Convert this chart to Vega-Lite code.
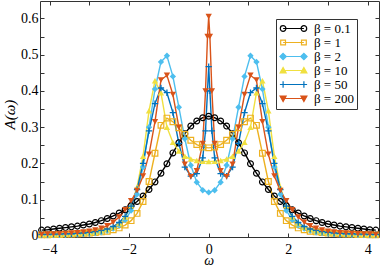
{
"$schema": "https://vega.github.io/schema/vega-lite/v6.json",
"width": 339, "height": 236,
"autosize": "none",
"padding": {"left": 40, "top": 1, "right": 3, "bottom": 31},
"background": "white",
"config": {
  "view": {"stroke": null},
  "font": "Liberation Serif",
  "axis": {"domainColor": "#333", "tickColor": "#333", "labelColor": "#000", "labelFont": "Liberation Serif", "labelFontSize": 14, "titleFont": "Liberation Serif", "titleFontSize": 15, "titleFontStyle": "italic", "titleFontWeight": "normal", "titleColor": "#000", "grid": false, "tickSize": -4, "domainWidth": 1, "tickWidth": 1, "labelFlush": false, "labelOverlap": false},
  "legend": {"labelFont": "Liberation Serif", "labelFontSize": 13, "labelColor": "#000", "orient": "none", "legendX": 236, "legendY": 18, "padding": 3, "rowPadding": -1.8, "strokeColor": "#333", "fillColor": "white", "symbolSize": 64, "symbolOffset": 8, "labelOffset": 14, "symbolStrokeWidth": 1.2}
},
"data": {"values": [
{"beta":0.1,"w":-4.2,"A":0.016},{"beta":0.1,"w":-4.05,"A":0.017},{"beta":0.1,"w":-3.9,"A":0.019},{"beta":0.1,"w":-3.75,"A":0.021},{"beta":0.1,"w":-3.6,"A":0.023},{"beta":0.1,"w":-3.45,"A":0.025},{"beta":0.1,"w":-3.3,"A":0.027},{"beta":0.1,"w":-3.15,"A":0.030},{"beta":0.1,"w":-3.0,"A":0.033},{"beta":0.1,"w":-2.85,"A":0.037},{"beta":0.1,"w":-2.7,"A":0.042},{"beta":0.1,"w":-2.55,"A":0.048},{"beta":0.1,"w":-2.4,"A":0.055},{"beta":0.1,"w":-2.25,"A":0.063},{"beta":0.1,"w":-2.1,"A":0.072},{"beta":0.1,"w":-1.95,"A":0.083},{"beta":0.1,"w":-1.8,"A":0.095},{"beta":0.1,"w":-1.65,"A":0.110},{"beta":0.1,"w":-1.5,"A":0.128},{"beta":0.1,"w":-1.35,"A":0.149},{"beta":0.1,"w":-1.2,"A":0.173},{"beta":0.1,"w":-1.05,"A":0.199},{"beta":0.1,"w":-0.9,"A":0.229},{"beta":0.1,"w":-0.75,"A":0.257},{"beta":0.1,"w":-0.6,"A":0.282},{"beta":0.1,"w":-0.45,"A":0.303},{"beta":0.1,"w":-0.3,"A":0.317},{"beta":0.1,"w":-0.15,"A":0.326},{"beta":0.1,"w":0,"A":0.330},{"beta":0.1,"w":0.15,"A":0.326},{"beta":0.1,"w":0.3,"A":0.317},{"beta":0.1,"w":0.45,"A":0.303},{"beta":0.1,"w":0.6,"A":0.282},{"beta":0.1,"w":0.75,"A":0.257},{"beta":0.1,"w":0.9,"A":0.229},{"beta":0.1,"w":1.05,"A":0.199},{"beta":0.1,"w":1.2,"A":0.173},{"beta":0.1,"w":1.35,"A":0.149},{"beta":0.1,"w":1.5,"A":0.128},{"beta":0.1,"w":1.65,"A":0.110},{"beta":0.1,"w":1.8,"A":0.095},{"beta":0.1,"w":1.95,"A":0.083},{"beta":0.1,"w":2.1,"A":0.072},{"beta":0.1,"w":2.25,"A":0.063},{"beta":0.1,"w":2.4,"A":0.055},{"beta":0.1,"w":2.55,"A":0.048},{"beta":0.1,"w":2.7,"A":0.042},{"beta":0.1,"w":2.85,"A":0.037},{"beta":0.1,"w":3.0,"A":0.033},{"beta":0.1,"w":3.15,"A":0.030},{"beta":0.1,"w":3.3,"A":0.027},{"beta":0.1,"w":3.45,"A":0.025},{"beta":0.1,"w":3.6,"A":0.023},{"beta":0.1,"w":3.75,"A":0.021},{"beta":0.1,"w":3.9,"A":0.019},{"beta":0.1,"w":4.05,"A":0.017},{"beta":0.1,"w":4.2,"A":0.016},
{"beta":1,"w":-4.2,"A":0.003},{"beta":1,"w":-4.05,"A":0.003},{"beta":1,"w":-3.9,"A":0.004},{"beta":1,"w":-3.75,"A":0.004},{"beta":1,"w":-3.6,"A":0.005},{"beta":1,"w":-3.45,"A":0.005},{"beta":1,"w":-3.3,"A":0.006},{"beta":1,"w":-3.15,"A":0.007},{"beta":1,"w":-3.0,"A":0.008},{"beta":1,"w":-2.85,"A":0.009},{"beta":1,"w":-2.7,"A":0.011},{"beta":1,"w":-2.55,"A":0.013},{"beta":1,"w":-2.4,"A":0.017},{"beta":1,"w":-2.25,"A":0.022},{"beta":1,"w":-2.1,"A":0.030},{"beta":1,"w":-1.95,"A":0.042},{"beta":1,"w":-1.8,"A":0.062},{"beta":1,"w":-1.65,"A":0.095},{"beta":1,"w":-1.5,"A":0.150},{"beta":1,"w":-1.35,"A":0.228},{"beta":1,"w":-1.2,"A":0.305},{"beta":1,"w":-1.05,"A":0.325},{"beta":1,"w":-0.9,"A":0.315},{"beta":1,"w":-0.75,"A":0.298},{"beta":1,"w":-0.6,"A":0.280},{"beta":1,"w":-0.45,"A":0.264},{"beta":1,"w":-0.3,"A":0.252},{"beta":1,"w":-0.15,"A":0.245},{"beta":1,"w":0,"A":0.243},{"beta":1,"w":0.15,"A":0.245},{"beta":1,"w":0.3,"A":0.252},{"beta":1,"w":0.45,"A":0.264},{"beta":1,"w":0.6,"A":0.280},{"beta":1,"w":0.75,"A":0.298},{"beta":1,"w":0.9,"A":0.315},{"beta":1,"w":1.05,"A":0.325},{"beta":1,"w":1.2,"A":0.305},{"beta":1,"w":1.35,"A":0.228},{"beta":1,"w":1.5,"A":0.150},{"beta":1,"w":1.65,"A":0.095},{"beta":1,"w":1.8,"A":0.062},{"beta":1,"w":1.95,"A":0.042},{"beta":1,"w":2.1,"A":0.030},{"beta":1,"w":2.25,"A":0.022},{"beta":1,"w":2.4,"A":0.017},{"beta":1,"w":2.55,"A":0.013},{"beta":1,"w":2.7,"A":0.011},{"beta":1,"w":2.85,"A":0.009},{"beta":1,"w":3.0,"A":0.008},{"beta":1,"w":3.15,"A":0.007},{"beta":1,"w":3.3,"A":0.006},{"beta":1,"w":3.45,"A":0.005},{"beta":1,"w":3.6,"A":0.005},{"beta":1,"w":3.75,"A":0.004},{"beta":1,"w":3.9,"A":0.004},{"beta":1,"w":4.05,"A":0.003},{"beta":1,"w":4.2,"A":0.003},
{"beta":2,"w":-4.2,"A":0.002},{"beta":2,"w":-4.05,"A":0.002},{"beta":2,"w":-3.9,"A":0.002},{"beta":2,"w":-3.75,"A":0.003},{"beta":2,"w":-3.6,"A":0.003},{"beta":2,"w":-3.45,"A":0.004},{"beta":2,"w":-3.3,"A":0.004},{"beta":2,"w":-3.15,"A":0.005},{"beta":2,"w":-3.0,"A":0.006},{"beta":2,"w":-2.85,"A":0.008},{"beta":2,"w":-2.7,"A":0.010},{"beta":2,"w":-2.55,"A":0.014},{"beta":2,"w":-2.4,"A":0.020},{"beta":2,"w":-2.25,"A":0.029},{"beta":2,"w":-2.1,"A":0.044},{"beta":2,"w":-1.95,"A":0.070},{"beta":2,"w":-1.8,"A":0.115},{"beta":2,"w":-1.65,"A":0.190},{"beta":2,"w":-1.5,"A":0.300},{"beta":2,"w":-1.35,"A":0.405},{"beta":2,"w":-1.2,"A":0.480},{"beta":2,"w":-1.05,"A":0.497},{"beta":2,"w":-0.9,"A":0.440},{"beta":2,"w":-0.75,"A":0.355},{"beta":2,"w":-0.6,"A":0.268},{"beta":2,"w":-0.45,"A":0.195},{"beta":2,"w":-0.3,"A":0.148},{"beta":2,"w":-0.15,"A":0.126},{"beta":2,"w":0,"A":0.120},{"beta":2,"w":0.15,"A":0.126},{"beta":2,"w":0.3,"A":0.148},{"beta":2,"w":0.45,"A":0.195},{"beta":2,"w":0.6,"A":0.268},{"beta":2,"w":0.75,"A":0.355},{"beta":2,"w":0.9,"A":0.440},{"beta":2,"w":1.05,"A":0.497},{"beta":2,"w":1.2,"A":0.480},{"beta":2,"w":1.35,"A":0.405},{"beta":2,"w":1.5,"A":0.300},{"beta":2,"w":1.65,"A":0.190},{"beta":2,"w":1.8,"A":0.115},{"beta":2,"w":1.95,"A":0.070},{"beta":2,"w":2.1,"A":0.044},{"beta":2,"w":2.25,"A":0.029},{"beta":2,"w":2.4,"A":0.020},{"beta":2,"w":2.55,"A":0.014},{"beta":2,"w":2.7,"A":0.010},{"beta":2,"w":2.85,"A":0.008},{"beta":2,"w":3.0,"A":0.006},{"beta":2,"w":3.15,"A":0.005},{"beta":2,"w":3.3,"A":0.004},{"beta":2,"w":3.45,"A":0.004},{"beta":2,"w":3.6,"A":0.003},{"beta":2,"w":3.75,"A":0.003},{"beta":2,"w":3.9,"A":0.002},{"beta":2,"w":4.05,"A":0.002},{"beta":2,"w":4.2,"A":0.002},
{"beta":10,"w":-4.2,"A":0.004},{"beta":10,"w":-4.05,"A":0.004},{"beta":10,"w":-3.9,"A":0.004},{"beta":10,"w":-3.75,"A":0.005},{"beta":10,"w":-3.6,"A":0.005},{"beta":10,"w":-3.45,"A":0.006},{"beta":10,"w":-3.3,"A":0.007},{"beta":10,"w":-3.15,"A":0.008},{"beta":10,"w":-3.0,"A":0.009},{"beta":10,"w":-2.85,"A":0.011},{"beta":10,"w":-2.7,"A":0.014},{"beta":10,"w":-2.55,"A":0.018},{"beta":10,"w":-2.4,"A":0.024},{"beta":10,"w":-2.25,"A":0.034},{"beta":10,"w":-2.1,"A":0.052},{"beta":10,"w":-1.95,"A":0.083},{"beta":10,"w":-1.8,"A":0.135},{"beta":10,"w":-1.65,"A":0.220},{"beta":10,"w":-1.5,"A":0.345},{"beta":10,"w":-1.35,"A":0.428},{"beta":10,"w":-1.2,"A":0.395},{"beta":10,"w":-1.05,"A":0.300},{"beta":10,"w":-0.9,"A":0.258},{"beta":10,"w":-0.75,"A":0.234},{"beta":10,"w":-0.6,"A":0.220},{"beta":10,"w":-0.45,"A":0.212},{"beta":10,"w":-0.3,"A":0.208},{"beta":10,"w":-0.15,"A":0.206},{"beta":10,"w":0,"A":0.205},{"beta":10,"w":0.15,"A":0.206},{"beta":10,"w":0.3,"A":0.208},{"beta":10,"w":0.45,"A":0.212},{"beta":10,"w":0.6,"A":0.220},{"beta":10,"w":0.75,"A":0.234},{"beta":10,"w":0.9,"A":0.258},{"beta":10,"w":1.05,"A":0.300},{"beta":10,"w":1.2,"A":0.395},{"beta":10,"w":1.35,"A":0.428},{"beta":10,"w":1.5,"A":0.345},{"beta":10,"w":1.65,"A":0.220},{"beta":10,"w":1.8,"A":0.135},{"beta":10,"w":1.95,"A":0.083},{"beta":10,"w":2.1,"A":0.052},{"beta":10,"w":2.25,"A":0.034},{"beta":10,"w":2.4,"A":0.024},{"beta":10,"w":2.55,"A":0.018},{"beta":10,"w":2.7,"A":0.014},{"beta":10,"w":2.85,"A":0.011},{"beta":10,"w":3.0,"A":0.009},{"beta":10,"w":3.15,"A":0.008},{"beta":10,"w":3.3,"A":0.007},{"beta":10,"w":3.45,"A":0.006},{"beta":10,"w":3.6,"A":0.005},{"beta":10,"w":3.75,"A":0.005},{"beta":10,"w":3.9,"A":0.004},{"beta":10,"w":4.05,"A":0.004},{"beta":10,"w":4.2,"A":0.004},
{"beta":50,"w":-4.2,"A":0.004},{"beta":50,"w":-4.05,"A":0.004},{"beta":50,"w":-3.9,"A":0.005},{"beta":50,"w":-3.75,"A":0.005},{"beta":50,"w":-3.6,"A":0.006},{"beta":50,"w":-3.45,"A":0.006},{"beta":50,"w":-3.3,"A":0.007},{"beta":50,"w":-3.15,"A":0.008},{"beta":50,"w":-3.0,"A":0.010},{"beta":50,"w":-2.85,"A":0.012},{"beta":50,"w":-2.7,"A":0.015},{"beta":50,"w":-2.55,"A":0.019},{"beta":50,"w":-2.4,"A":0.026},{"beta":50,"w":-2.25,"A":0.037},{"beta":50,"w":-2.1,"A":0.054},{"beta":50,"w":-1.95,"A":0.082},{"beta":50,"w":-1.8,"A":0.128},{"beta":50,"w":-1.65,"A":0.200},{"beta":50,"w":-1.5,"A":0.290},{"beta":50,"w":-1.35,"A":0.365},{"beta":50,"w":-1.2,"A":0.408},{"beta":50,"w":-1.05,"A":0.395},{"beta":50,"w":-0.9,"A":0.340},{"beta":50,"w":-0.75,"A":0.255},{"beta":50,"w":-0.6,"A":0.190},{"beta":50,"w":-0.45,"A":0.165},{"beta":50,"w":-0.3,"A":0.172},{"beta":50,"w":-0.15,"A":0.215},{"beta":50,"w":-0.08,"A":0.290},{"beta":50,"w":-0.03,"A":0.400},{"beta":50,"w":0,"A":0.467},{"beta":50,"w":0.03,"A":0.400},{"beta":50,"w":0.08,"A":0.290},{"beta":50,"w":0.15,"A":0.215},{"beta":50,"w":0.3,"A":0.172},{"beta":50,"w":0.45,"A":0.165},{"beta":50,"w":0.6,"A":0.190},{"beta":50,"w":0.75,"A":0.255},{"beta":50,"w":0.9,"A":0.340},{"beta":50,"w":1.05,"A":0.395},{"beta":50,"w":1.2,"A":0.408},{"beta":50,"w":1.35,"A":0.365},{"beta":50,"w":1.5,"A":0.290},{"beta":50,"w":1.65,"A":0.200},{"beta":50,"w":1.8,"A":0.128},{"beta":50,"w":1.95,"A":0.082},{"beta":50,"w":2.1,"A":0.054},{"beta":50,"w":2.25,"A":0.037},{"beta":50,"w":2.4,"A":0.026},{"beta":50,"w":2.55,"A":0.019},{"beta":50,"w":2.7,"A":0.015},{"beta":50,"w":2.85,"A":0.012},{"beta":50,"w":3.0,"A":0.010},{"beta":50,"w":3.15,"A":0.008},{"beta":50,"w":3.3,"A":0.007},{"beta":50,"w":3.45,"A":0.006},{"beta":50,"w":3.6,"A":0.006},{"beta":50,"w":3.75,"A":0.005},{"beta":50,"w":3.9,"A":0.005},{"beta":50,"w":4.05,"A":0.004},{"beta":50,"w":4.2,"A":0.004},
{"beta":200,"w":-4.2,"A":0.004},{"beta":200,"w":-4.05,"A":0.005},{"beta":200,"w":-3.9,"A":0.005},{"beta":200,"w":-3.75,"A":0.006},{"beta":200,"w":-3.6,"A":0.007},{"beta":200,"w":-3.45,"A":0.008},{"beta":200,"w":-3.3,"A":0.009},{"beta":200,"w":-3.15,"A":0.011},{"beta":200,"w":-3.0,"A":0.013},{"beta":200,"w":-2.85,"A":0.016},{"beta":200,"w":-2.7,"A":0.021},{"beta":200,"w":-2.55,"A":0.028},{"beta":200,"w":-2.4,"A":0.038},{"beta":200,"w":-2.25,"A":0.052},{"beta":200,"w":-2.1,"A":0.072},{"beta":200,"w":-1.95,"A":0.097},{"beta":200,"w":-1.8,"A":0.125},{"beta":200,"w":-1.65,"A":0.165},{"beta":200,"w":-1.5,"A":0.225},{"beta":200,"w":-1.35,"A":0.315},{"beta":200,"w":-1.2,"A":0.430},{"beta":200,"w":-1.05,"A":0.443},{"beta":200,"w":-0.9,"A":0.390},{"beta":200,"w":-0.75,"A":0.300},{"beta":200,"w":-0.6,"A":0.198},{"beta":200,"w":-0.45,"A":0.163},{"beta":200,"w":-0.3,"A":0.180},{"beta":200,"w":-0.15,"A":0.255},{"beta":200,"w":-0.08,"A":0.400},{"beta":200,"w":-0.03,"A":0.550},{"beta":200,"w":0,"A":0.605},{"beta":200,"w":0.03,"A":0.550},{"beta":200,"w":0.08,"A":0.400},{"beta":200,"w":0.15,"A":0.255},{"beta":200,"w":0.3,"A":0.180},{"beta":200,"w":0.45,"A":0.163},{"beta":200,"w":0.6,"A":0.198},{"beta":200,"w":0.75,"A":0.300},{"beta":200,"w":0.9,"A":0.390},{"beta":200,"w":1.05,"A":0.443},{"beta":200,"w":1.2,"A":0.430},{"beta":200,"w":1.35,"A":0.315},{"beta":200,"w":1.5,"A":0.225},{"beta":200,"w":1.65,"A":0.165},{"beta":200,"w":1.8,"A":0.125},{"beta":200,"w":1.95,"A":0.097},{"beta":200,"w":2.1,"A":0.072},{"beta":200,"w":2.25,"A":0.052},{"beta":200,"w":2.4,"A":0.038},{"beta":200,"w":2.55,"A":0.028},{"beta":200,"w":2.7,"A":0.021},{"beta":200,"w":2.85,"A":0.016},{"beta":200,"w":3.0,"A":0.013},{"beta":200,"w":3.15,"A":0.011},{"beta":200,"w":3.3,"A":0.009},{"beta":200,"w":3.45,"A":0.008},{"beta":200,"w":3.6,"A":0.007},{"beta":200,"w":3.75,"A":0.006},{"beta":200,"w":3.9,"A":0.005},{"beta":200,"w":4.05,"A":0.005},{"beta":200,"w":4.2,"A":0.004}
]},
"layer": [
  {
    "mark": {"type": "line", "strokeWidth": 1.4, "clip": false},
    "encoding": {
      "x": {"field": "w", "type": "quantitative", "scale": {"domain": [-4.24, 4.28], "nice": false, "zero": false},
            "axis": {"orient": "bottom", "values": [-4,-3,-2,-1,0,1,2,3,4], "labelExpr": "datum.value % 2 == 0 ? datum.label : ''", "labelPadding": 9, "title": "ω", "titleX": 168.7, "titleY": 23, "titleBaseline": "middle", "titleAlign": "center", "titleFontSize": 14}},
      "y": {"field": "A", "type": "quantitative", "scale": {"domain": [-0.003, 0.648], "nice": false, "zero": false},
            "axis": {"orient": "left", "values": [0,0.05,0.1,0.15,0.2,0.25,0.3,0.35,0.4,0.45,0.5,0.55,0.6], "format": ".1~f", "labelExpr": "round(datum.value*100) % 10 == 0 ? datum.label : ''", "labelPadding": 6, "title": "A(ω)", "titleX": -31, "titleY": 113, "titleAngle": -90, "titleBaseline": "middle", "titleAlign": "center"}},
      "color": {"field": "beta", "type": "ordinal",
        "scale": {"domain": [0.1, 1, 2, 10, 50, 200], "range": ["#000000", "#EDB120", "#4DBEEE", "#F0E040", "#0072BD", "#D95319"]},
        "legend": {"title": null, "labelExpr": "'β = ' + datum.label + '\u00a0\u00a0\u00a0\u00a0'"}}
    }
  },
  {
    "transform": [{"filter": "datum.beta == 0.1"}],
    "mark": {"type": "point", "shape": "circle", "filled": false, "color": "#000000", "size": 34, "strokeWidth": 1.2, "opacity": 1, "clip": false},
    "encoding": {
      "x": {"field": "w", "type": "quantitative", "axis": {"orient": "top", "values": [-4,-3,-2,-1,0,1,2,3,4], "labels": false, "title": null}},
      "y": {"field": "A", "type": "quantitative", "axis": {"orient": "right", "values": [0,0.05,0.1,0.15,0.2,0.25,0.3,0.35,0.4,0.45,0.5,0.55,0.6], "labels": false, "title": null}}
    }
  },
  {
    "transform": [{"filter": "datum.beta == 1"}],
    "mark": {"type": "point", "shape": "square", "filled": false, "color": "#EDB120", "size": 32, "strokeWidth": 1.2, "opacity": 1, "clip": false},
    "encoding": {"x": {"field": "w", "type": "quantitative", "axis": null}, "y": {"field": "A", "type": "quantitative", "axis": null}}
  },
  {
    "transform": [{"filter": "datum.beta == 2"}],
    "mark": {"type": "point", "shape": "diamond", "filled": true, "color": "#4DBEEE", "size": 40, "opacity": 1, "clip": false},
    "encoding": {"x": {"field": "w", "type": "quantitative", "axis": null}, "y": {"field": "A", "type": "quantitative", "axis": null}}
  },
  {
    "transform": [{"filter": "datum.beta == 10"}],
    "mark": {"type": "point", "shape": "triangle-up", "filled": true, "color": "#F0E040", "size": 40, "opacity": 1, "clip": false},
    "encoding": {"x": {"field": "w", "type": "quantitative", "axis": null}, "y": {"field": "A", "type": "quantitative", "axis": null}}
  },
  {
    "transform": [{"filter": "datum.beta == 50"}],
    "mark": {"type": "point", "shape": "M-1,0H1M0,-1V1", "filled": false, "color": "#0072BD", "size": 40, "strokeWidth": 1.3, "opacity": 1, "clip": false},
    "encoding": {"x": {"field": "w", "type": "quantitative", "axis": null}, "y": {"field": "A", "type": "quantitative", "axis": null}}
  },
  {
    "transform": [{"filter": "datum.beta == 200"}],
    "mark": {"type": "point", "shape": "triangle-down", "filled": true, "color": "#D95319", "size": 40, "opacity": 1, "clip": false},
    "encoding": {"x": {"field": "w", "type": "quantitative", "axis": null}, "y": {"field": "A", "type": "quantitative", "axis": null}}
  },
  {
    "transform": [{"filter": "datum.A < -1"}],
    "mark": {"type": "point", "filled": false, "strokeWidth": 1.2, "opacity": 1},
    "encoding": {
      "x": {"field": "w", "type": "quantitative", "axis": null},
      "y": {"field": "A", "type": "quantitative", "axis": null},
      "color": {"field": "beta", "type": "ordinal",
        "legend": {"title": null, "labelExpr": "'β = ' + datum.label + '\u00a0\u00a0\u00a0\u00a0'"}},
      "shape": {"field": "beta", "type": "ordinal",
        "scale": {"domain": [0.1, 1, 2, 10, 50, 200], "range": [
          "M-2.6,0H2.6M-3.3,0A0.7,0.7 0 1,0 -1.9,0A0.7,0.7 0 1,0 -3.3,0M1.9,0A0.7,0.7 0 1,0 3.3,0A0.7,0.7 0 1,0 1.9,0",
          "M-2.6,0H2.6M-3.2,-0.6H-2V0.6H-3.2ZM2,-0.6H3.2V0.6H2Z",
          "M-2.6,0H2.6M-2.6,-0.8L-1.8,0L-2.6,0.8L-3.4,0ZM2.6,-0.8L3.4,0L2.6,0.8L1.8,0Z",
          "M-2.6,0H2.6M-2.6,-0.75L-1.85,0.6H-3.35ZM2.6,-0.75L3.35,0.6H1.85Z",
          "M-3.4,0H3.4M-2.6,-0.8V0.8M2.6,-0.8V0.8",
          "M-2.6,0H2.6M-3.35,-0.6H-1.85L-2.6,0.75ZM1.85,-0.6H3.35L2.6,0.75Z"]},
        "legend": {"title": null, "labelExpr": "'β = ' + datum.label + '\u00a0\u00a0\u00a0\u00a0'"}},
      "fill": {"field": "beta", "type": "ordinal",
        "scale": {"domain": [0.1, 1, 2, 10, 50, 200], "range": ["transparent", "transparent", "#4DBEEE", "#F0E040", "transparent", "#D95319"]},
        "legend": {"title": null, "labelExpr": "'β = ' + datum.label + '\u00a0\u00a0\u00a0\u00a0'"}}
    }
  }
],
"resolve": {"axis": {"x": "independent", "y": "independent"}}
}
